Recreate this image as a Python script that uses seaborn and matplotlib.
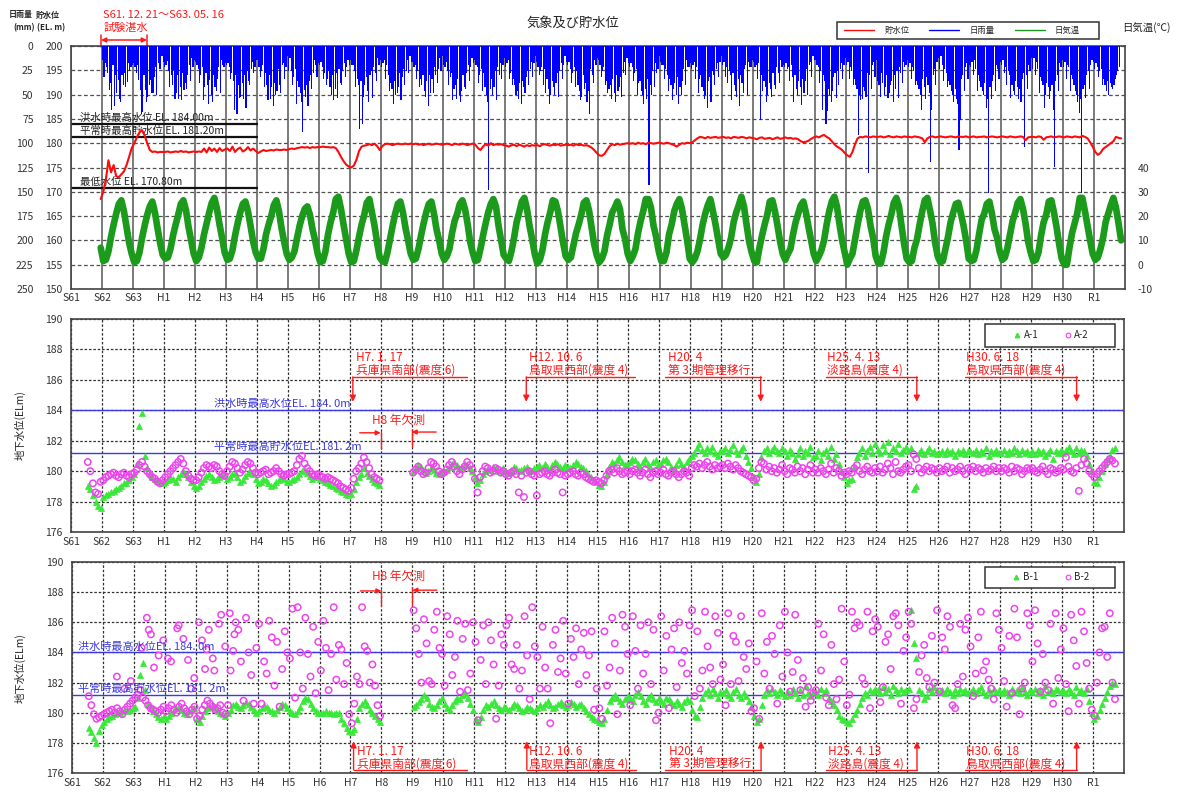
import numpy as np
import pandas as pd
import matplotlib
matplotlib.use("Agg")
import matplotlib.pyplot as plt
import matplotlib.transforms as mtransforms
from matplotlib.lines import Line2D
from matplotlib.patches import Rectangle
import seaborn as sns


def nums(rows):
    return np.array(" ".join(rows).split(), dtype=float)


# ---------------- x axis: Japanese era years ----------------
year_ticks = [1986, 1987, 1988, 1989, 1990, 1991, 1992, 1993, 1994, 1995, 1996, 1997,
              1998, 1999, 2000, 2001, 2002, 2003, 2004, 2005, 2006, 2007, 2008, 2009,
              2010, 2011, 2012, 2013, 2014, 2015, 2016, 2017, 2018, 2019]
year_labels = ["S61", "S62", "S63", "H1", "H2", "H3", "H4", "H5", "H6", "H7", "H8", "H9",
               "H10", "H11", "H12", "H13", "H14", "H15", "H16", "H17", "H18", "H19", "H20", "H21",
               "H22", "H23", "H24", "H25", "H26", "H27", "H28", "H29", "H30", "R1"]

# ---------------- daily rainfall (max per half month, mm), from Jan 1987 ----------------
rain_start = 1987.0
rain_mm = nums([
    "14 32 18 22 28 45 38 66 20 62 30 48 35 55 58 30 40 28 42 37 18 26 22 20",
    "18 22 28 20 35 45 70 68 30 45 58 52 40 35 48 48 32 22 50 18 24 24 10 16",
    "22 20 15 26 42 30 40 25 55 48 30 55 42 56 28 45 38 44 30 20 36 12 22 14",
    "16 20 24 38 30 22 56 42 28 40 60 35 50 58 30 42 46 34 22 48 14 20 22 18",
    "20 18 22 34 28 36 66 30 70 40 54 52 38 55 30 64 26 36 40 24 16 28 22 14",
    "14 22 32 26 20 42 28 40 56 30 55 42 62 38 50 46 24 40 48 20 18 34 22 10",
    "26 12 26 40 32 24 60 36 42 48 58 88 45 52 40 62 36 30 44 28 14 20 32 18",
    "20 16 22 34 28 40 34 26 42 50 30 56 44 28 54 24 38 40 26 18 32 22 14 20",
    "14 20 20 26 42 34 40 85 36 80 52 40 32 46 58 30 26 54 22 28 36 12 20 14",
    "22 18 14 34 20 30 46 38 44 60 36 50 48 42 28 56 32 24 40 26 14 28 10 16",
    "16 22 20 34 26 42 34 40 30 46 52 36 62 30 48 34 48 22 30 38 24 12 26 10",
    "20 22 16 26 40 32 28 56 44 40 55 34 50 58 46 30 42 44 28 20 36 22 12 18",
    "14 20 22 38 30 24 46 28 42 50 58 148 44 34 50 42 26 56 22 30 18 34 20 12",
    "22 18 14 34 28 40 34 40 50 46 55 38 60 36 42 48 32 26 40 24 16 32 18 10",
    "16 22 30 26 22 40 24 48 34 44 60 50 36 42 50 38 28 52 26 18 34 20 10 16",
    "20 16 24 38 28 22 42 26 40 46 56 52 30 44 38 58 46 70 24 30 38 14 20 12",
    "14 20 32 26 22 40 36 48 44 40 55 34 48 58 30 46 42 32 52 28 16 30 12 18",
    "22 18 22 36 28 24 50 38 36 46 50 60 44 55 34 143 40 50 26 42 18 28 24 10",
    "16 20 20 34 24 30 46 34 40 56 44 38 50 32 60 42 50 36 24 40 14 22 22 18",
    "24 20 16 34 22 48 34 30 42 46 55 50 64 36 32 58 26 30 40 24 18 32 16 10",
    "20 16 32 22 38 26 30 56 28 40 46 52 34 62 30 38 48 24 20 50 16 22 22 14",
    "16 22 20 34 18 76 30 46 36 42 58 50 38 44 52 28 40 44 22 28 38 14 22 20",
    "22 18 24 22 36 20 32 58 30 44 50 36 42 61 34 48 36 24 50 20 16 32 10 14",
    "14 20 22 38 26 66 30 36 80 67 44 50 58 46 32 28 54 26 40 24 18 34 20 12",
    "20 16 34 22 26 40 34 40 44 92 50 56 55 42 46 52 28 131 30 44 20 16 32 14",
    "36 40 52 28 38 50 42 30 54 48 40 36 58 30 44 26 54 22 28 38 16 22 20 14",
    "22 18 34 22 26 40 36 40 44 50 66 34 42 55 32 40 48 119 66 30 24 40 16 12",
    "24 10 20 36 24 28 42 36 40 46 50 58 44 55 60 107 76 34 30 46 22 18 34 20",
    "22 16 30 14 24 46 30 36 42 46 50 38 64 55 151 42 55 36 30 46 20 24 34 16",
    "20 14 28 22 40 26 30 54 40 46 50 36 42 55 44 58 34 28 104 30 44 20 26 12",
    "24 12 30 16 24 48 32 36 40 64 50 38 42 55 46 40 66 124 36 30 46 18 22 14",
    "22 16 34 20 22 46 30 34 40 46 50 58 69 55 151 44 40 54 30 26 44 20 14 16",
    "24 18 22 32 26 24 40 34 40 46 36 50 38 42 44 40 34 30 26 22",
])

# ---------------- daily air temperature (monthly level, deg C), from Dec 1986 ----------------
temp_start = 1986 + 11 / 12
temp_c = nums([
    "7.0",
    "1.5 2.0 5.5 11.5 16.5 21.0 25.0 26.5 22.0 15.5 9.0 4.5",
    "1.0 1.5 5.0 11.0 16.0 20.5 24.0 26.0 21.5 15.0 9.0 4.0",
    "2.5 3.0 6.5 12.0 16.5 20.5 25.0 26.5 22.5 15.5 10.0 4.5",
    "1.5 3.0 7.0 12.5 17.0 21.5 25.5 27.5 23.0 16.5 11.0 5.0",
    "2.0 2.5 6.0 12.0 17.0 21.5 25.0 26.0 22.0 16.0 9.5 5.0",
    "2.5 2.5 6.5 12.5 16.5 20.0 24.5 26.5 22.0 15.0 9.5 4.5",
    "2.0 3.0 5.5 11.0 16.0 20.0 23.0 24.0 20.5 14.5 10.0 4.5",
    "1.0 1.5 5.5 12.5 17.5 21.5 27.0 28.0 23.0 16.5 10.5 4.5",
    "1.0 1.5 6.0 11.5 16.5 20.5 25.5 27.0 21.5 16.0 9.0 3.0",
    "1.5 1.0 5.0 10.5 16.0 21.0 25.0 26.0 21.5 15.0 10.0 4.5",
    "2.0 2.5 6.5 12.0 17.0 21.5 25.0 26.0 21.0 14.5 10.0 4.5",
    "2.0 3.5 6.5 13.0 18.0 21.0 25.0 26.5 23.0 17.0 9.5 5.0",
    "1.5 2.0 6.5 12.0 17.0 21.5 25.0 27.0 24.0 16.0 10.0 4.0",
    "2.5 1.5 5.5 11.0 17.5 21.5 26.0 27.5 23.0 16.0 10.5 4.5",
    "0.5 2.0 6.0 12.5 17.5 21.5 26.5 26.0 22.0 15.5 9.0 3.5",
    "2.0 3.0 8.0 13.0 16.5 20.5 25.5 26.5 22.5 15.5 8.5 4.0",
    "1.0 2.5 5.5 12.0 16.5 21.5 23.5 26.0 23.0 14.5 10.5 4.5",
    "1.5 3.5 6.5 13.0 18.0 22.0 27.0 27.0 23.5 16.0 11.5 5.5",
    "1.5 1.5 5.0 12.5 16.5 22.0 25.0 27.0 23.0 16.5 10.0 2.5",
    "1.0 2.5 5.5 10.5 16.5 21.0 24.5 27.0 22.0 16.5 10.5 4.5",
    "3.0 4.0 7.0 11.0 17.5 21.5 24.5 28.0 24.0 16.5 9.5 5.0",
    "1.5 1.0 7.0 12.0 16.5 20.5 26.0 26.5 22.0 16.0 9.5 4.5",
    "2.0 4.5 6.5 12.5 17.5 21.0 24.5 26.0 21.5 15.5 10.0 4.5",
    "1.5 3.5 6.0 10.0 16.5 22.0 26.0 28.0 24.0 16.5 10.0 5.0",
    "0.0 2.5 4.5 10.5 16.5 22.0 26.0 26.5 23.0 16.0 11.0 3.5",
    "0.5 0.5 5.0 11.5 16.5 20.5 25.5 27.5 24.0 16.0 8.5 2.5",
    "1.0 1.5 7.0 10.5 16.5 22.0 26.5 27.5 22.5 17.0 9.0 3.5",
    "1.0 1.5 6.5 11.5 17.5 21.5 25.0 25.5 21.0 16.0 10.0 2.5",
    "1.5 2.0 6.0 12.5 18.5 21.0 25.0 26.0 21.0 14.5 11.0 5.5",
    "2.0 3.0 7.0 12.5 18.0 21.5 25.5 27.0 23.0 17.0 9.5 5.0",
    "1.5 2.0 5.0 12.0 17.5 20.5 26.0 26.5 21.5 15.5 8.5 2.5",
    "0.0 0.0 7.0 13.0 17.0 21.0 27.5 27.5 22.0 16.0 10.0 4.5",
    "2.0 3.0 6.5 11.0 17.5 21.0 24.5 27.5 23.5 17.0 10.0",
])

# ---------------- reservoir water level (EL. m, monthly), from Dec 1986 ----------------
level_start = 1986 + 11 / 12
level_el = nums([
    "168.5",
    "170.0 172.5 176.5 174.0 175.5 173.2 173.0 173.6 174.2 175.5 177.2 179.0",
    "180.0 181.2 182.2 182.7 181.6 180.0 178.6 178.2 178.3 178.1 178.2 178.2",
    "178.2 178.3 178.1 178.2 178.3 178.2 178.4 178.2 178.3 178.1 178.2 178.3",
    "178.2 178.3 178.2 178.9 178.1 179.1 178.4 178.9 178.2 179.0 178.4 178.7",
    "178.9 178.4 179.3 178.2 178.8 179.1 178.3 178.6 179.2 178.5 178.9 178.4",
    "178.0 178.3 178.6 178.4 178.5 178.6 178.5 178.7 178.6 178.6 178.7 178.6",
    "178.8 178.9 178.8 179.0 179.1 179.2 179.1 179.2 179.0 179.2 179.1 179.2",
    "179.2 179.3 179.2 179.2 179.1 179.2 179.0 178.2 177.2 176.3 175.6 175.2",
    "175.0 175.4 176.6 178.4 179.3 179.5 179.6 179.8 179.6 179.9 179.4 178.6",
    "179.4 179.8 179.9 179.8 179.6 179.8 179.9 179.8 179.8 179.9 179.8 179.9",
    "179.8 179.9 179.7 179.8 179.6 179.8 179.9 179.7 179.8 179.9 179.8 179.7",
    "179.8 179.9 179.8 179.6 179.9 179.8 179.7 179.9 179.8 179.6 179.8 179.9",
    "179.7 179.0 178.6 179.3 179.8 179.5 180.0 179.6 179.8 179.7 179.8 179.6",
    "179.5 179.3 179.6 179.7 179.4 179.7 179.5 179.3 179.6 179.4 179.6 179.5",
    "179.6 179.4 179.7 179.8 179.6 179.5 179.7 179.6 179.8 179.5 179.6 179.7",
    "179.6 179.7 179.5 179.8 179.6 179.7 179.5 179.6 179.4 179.1 178.6 178.0",
    "177.5 177.4 177.8 178.6 179.4 179.8 179.6 179.9 179.7 179.8 179.9 180.0",
    "179.9 180.0 179.8 180.1 179.9 180.0 179.8 180.1 180.0 179.9 180.0 180.1",
    "180.0 179.9 180.1 180.0 179.8 179.6 179.3 179.7 180.0 179.9 180.1 180.0",
    "180.2 180.6 181.0 181.3 181.2 181.0 181.3 181.1 181.2 181.3 181.1 181.2",
    "181.3 181.1 181.2 181.0 181.3 181.2 181.1 181.3 181.2 181.0 181.2 181.1",
    "181.0 180.8 181.1 181.2 180.9 181.0 181.1 180.8 181.0 181.2 180.9 181.0",
    "181.2 181.0 181.1 180.9 181.0 180.8 180.4 180.2 180.3 180.5 180.9 181.2",
    "181.4 181.2 181.5 181.7 181.3 181.0 180.4 179.8 179.3 179.0 178.6 178.0",
    "177.5 177.2 178.2 179.8 181.0 181.3 181.2 181.4 181.3 181.2 181.4 181.3",
    "181.3 181.4 181.2 181.3 181.5 181.3 181.2 181.4 181.3 181.2 181.4 181.3",
    "181.3 181.2 181.4 181.3 181.2 181.0 180.2 181.0 181.3 181.4 181.2 181.3",
    "181.4 181.3 181.2 181.3 181.4 181.3 181.2 181.4 181.3 181.3 181.4 181.2",
    "181.3 181.4 181.2 181.3 181.3 181.4 181.2 181.3 181.4 181.3 181.2 181.3",
    "181.4 181.3 181.2 181.4 181.3 181.2 181.3 181.4 181.3 180.6 181.2 181.3",
    "181.3 181.2 181.4 181.3 180.7 181.2 181.3 181.4 181.2 181.3 181.4 181.3",
    "181.2 181.4 181.3 181.2 181.4 181.3 181.2 181.5 181.3 181.0 180.2 179.3",
    "178.2 177.6 178.0 178.8 179.2 179.6 180.0 180.4 181.3 181.1 181.0",
])

# reference levels of the dam
dam_levels = [184.0, 181.2, 170.8]
dam_labels = ["洪水時最高水位 EL. 184.00m", "平常時最高貯水位 EL. 181.20m", "最低水位 EL. 170.80m"]
gw_lines = [184.0, 181.2]
gw_line_labels = ["洪水時最高水位EL. 184. 0m", "平常時最高貯水位EL. 181. 2m"]

# ---------------- groundwater levels (EL. m, monthly) ----------------
seg1_start = 1986.5   # Jul 1986 - Dec 1995
seg2_start = 1997.0   # Jan 1997 - Sep 2019 (H8 not measured)

a1_seg1 = nums([
    "179.0 178.8 178.4 178.0 177.7 177.6",
    "178.3 178.4 178.5 178.6 178.7 178.8 178.9 179.0 179.2 179.2 179.4 179.6",
    "179.8 180.5 183.0 183.8 181.0 180.2 179.9 179.6 179.5 179.4 179.3 179.2",
    "179.3 179.4 179.6 179.5 179.3 179.6 179.8 180.0 179.8 179.6 179.3 179.0",
    "178.9 179.0 179.3 179.5 179.7 179.8 179.6 179.4 179.5 179.6 179.8 179.7",
    "179.5 179.6 179.8 179.9 179.6 179.3 179.4 179.7 179.9 180.0 179.8 179.5",
    "179.2 179.3 179.5 179.4 179.2 179.0 179.1 179.3 179.4 179.6 179.5 179.3",
    "179.3 179.4 179.5 179.6 179.8 180.0 180.1 179.9 179.7 179.5 179.6 179.6",
    "179.5 179.4 179.3 179.2 179.1 179.0 178.9 178.8 178.7 178.6 178.5 178.4",
    "178.5 178.8 179.3 179.6 179.8 180.2 179.9 179.7 179.5 179.3 179.2 179.1",
])
a1_seg2 = nums([
    "180.0 180.2 180.4 180.3 180.1 179.9 180.0 180.2 180.1 179.9 179.8 179.9",
    "180.0 180.1 180.3 180.5 180.6 180.4 180.2 180.3 180.5 180.4 180.2 180.0",
    "179.6 179.2 179.4 179.8 180.0 180.2 180.1 180.3 180.2 180.0 180.1 180.2",
    "180.0 179.9 180.1 180.3 180.2 180.0 180.1 180.2 180.3 180.1 180.0 180.2",
    "180.3 180.4 180.2 180.5 180.3 180.1 180.4 180.6 180.5 180.3 180.2 180.4",
    "180.3 180.2 180.4 180.6 180.5 180.3 180.2 180.0 179.8 179.6 179.4 179.3",
    "179.1 179.0 179.3 179.8 180.3 180.6 180.5 180.7 180.9 180.6 180.4 180.5",
    "180.6 180.8 180.7 180.5 180.3 180.6 180.8 180.5 180.3 180.6 180.7 180.4",
    "180.5 180.7 180.8 180.6 180.3 180.1 180.4 180.7 180.5 180.3 180.6 180.8",
    "181.0 181.2 181.5 181.8 181.4 181.2 181.5 181.3 181.6 181.2 181.0 181.3",
    "181.3 181.5 181.2 181.4 181.7 181.3 181.1 181.4 181.6 181.0 180.6 180.2",
    "179.6 179.3 179.8 180.9 181.3 181.5 181.2 181.4 181.6 181.3 181.2 181.5",
    "181.3 181.0 181.4 181.2 180.8 181.1 181.5 181.0 181.3 181.2 181.6 180.9",
    "181.0 181.3 180.7 181.2 181.4 181.0 181.6 180.8 181.1 180.5 180.0 179.6",
    "179.2 179.4 179.5 180.3 180.9 181.2 181.5 181.0 181.3 181.6 181.2 181.8",
    "181.4 181.2 181.7 181.3 181.9 181.1 181.5 181.3 181.8 181.2 181.4 181.6",
    "181.3 181.5 178.8 179.0 181.2 181.4 181.1 181.3 181.5 181.2 181.3 181.1",
    "181.2 181.3 181.1 181.4 181.2 181.3 181.0 181.3 181.2 181.4 181.1 181.3",
    "181.3 181.2 181.4 181.1 181.3 181.2 181.5 181.0 181.3 181.2 181.4 181.2",
    "181.2 181.4 181.1 181.3 181.2 181.5 181.3 181.1 181.4 181.2 181.3 181.1",
    "181.3 181.1 181.4 181.2 181.3 181.0 181.2 181.4 180.8 181.3 181.2 181.4",
    "181.2 181.4 181.6 181.3 181.1 181.5 181.2 181.4 181.3 181.0 180.5 180.0",
    "179.3 179.2 179.6 180.0 180.5 180.8 181.0 181.4 181.5",
])
a2_seg1 = nums([
    "180.6 180.0 179.2 178.6 178.5 179.3",
    "179.4 179.6 179.7 179.8 179.9 179.7 179.6 179.8 179.9 179.7 179.6 179.8",
    "179.9 180.1 180.4 180.6 180.3 180.0 179.8 179.6 179.5 179.3 179.2 179.4",
    "179.6 179.8 180.0 180.2 180.4 180.6 180.8 180.5 180.0 179.7 179.5 179.4",
    "179.4 179.6 179.9 180.2 180.4 180.3 180.2 180.4 180.3 180.0 179.8 179.7",
    "180.0 180.3 180.6 180.5 180.2 179.9 180.1 180.4 180.6 180.5 180.2 179.9",
    "179.8 179.9 180.0 180.1 179.8 179.9 180.0 180.2 180.0 179.8 179.7 179.8",
    "179.8 179.9 180.0 180.4 180.8 181.0 180.5 180.2 180.0 179.8 179.7 179.8",
    "179.7 179.6 179.5 179.6 179.5 179.4 179.3 179.2 179.0 178.9 178.8 178.7",
    "178.9 179.5 180.0 180.2 180.5 180.9 180.6 180.2 179.8 179.6 179.5 179.4",
])
a2_seg2 = nums([
    "179.9 180.1 180.3 180.0 179.8 179.9 180.2 180.6 180.5 180.3 180.0 179.8",
    "179.9 180.1 180.4 180.6 180.3 180.0 179.8 180.1 180.3 180.6 180.4 180.1",
    "179.5 178.6 179.6 180.0 180.3 180.2 179.9 180.0 180.2 180.1 179.9 180.0",
    "179.8 179.7 179.9 180.0 179.8 178.6 179.7 178.3 179.9 180.0 179.8 179.7",
    "178.4 179.8 179.9 180.0 179.8 179.7 179.9 180.1 179.9 179.8 178.6 179.7",
    "179.8 179.9 180.0 179.8 179.7 179.9 179.8 179.6 179.5 179.4 179.3 179.4",
    "179.3 179.2 179.4 179.7 180.0 180.1 179.9 180.2 180.0 179.8 179.9 180.0",
    "179.8 180.0 180.1 179.9 179.7 179.9 180.1 179.8 179.6 179.9 180.0 179.8",
    "179.9 180.1 179.8 179.7 179.9 180.0 179.8 179.6 179.8 180.0 179.9 179.7",
    "180.2 180.4 180.3 180.5 180.2 180.4 180.6 180.3 180.1 180.4 180.2 180.3",
    "180.4 180.2 180.5 180.3 180.1 180.4 180.2 180.0 179.9 179.8 179.7 179.6",
    "179.4 179.5 180.2 180.6 180.5 180.1 180.3 180.0 180.2 179.9 180.1 180.4",
    "180.0 179.8 180.2 180.1 179.9 180.3 180.0 180.2 179.8 180.1 180.4 179.9",
    "180.1 179.9 180.2 180.0 179.8 180.1 180.5 179.9 180.2 180.0 179.7 179.9",
    "179.8 180.0 179.9 180.2 180.4 180.0 179.8 180.1 180.3 180.0 179.9 180.2",
    "180.0 180.3 179.9 180.1 180.5 180.2 179.8 180.6 180.0 179.9 180.1 180.3",
    "180.4 180.0 181.1 180.8 180.2 179.9 180.1 180.3 180.0 180.2 180.1 179.9",
    "180.2 180.0 180.1 180.3 179.9 180.2 180.0 180.1 180.3 180.0 179.8 180.2",
    "180.1 180.3 180.0 180.2 180.1 179.9 180.2 180.0 180.1 180.3 180.0 180.2",
    "180.0 180.2 180.1 179.9 180.3 180.0 180.2 180.1 179.8 180.0 180.2 180.1",
    "180.2 180.0 179.9 180.1 180.3 180.0 179.8 180.2 180.1 179.9 180.0 180.2",
    "180.1 180.9 180.3 180.0 179.9 180.2 178.7 180.4 180.8 180.5 180.0 179.8",
    "179.6 179.8 180.0 180.2 180.4 180.6 180.8 180.7 180.5",
])
b1_seg1 = nums([
    "179.0 178.7 178.3 178.0 178.8 179.2",
    "179.4 179.6 179.7 179.8 179.9 180.0 180.0 180.1 180.2 180.1 180.2 180.3",
    "180.4 181.0 182.5 183.3 181.5 180.6 180.3 180.1 179.9 179.7 179.6 179.8",
    "179.6 179.8 180.0 180.2 180.3 180.4 180.2 180.0 179.9 180.1 180.2 180.3",
    "179.6 179.4 179.8 180.1 180.3 180.4 180.5 180.3 180.1 180.0 179.9 179.8",
    "180.0 180.2 180.5 180.6 180.4 180.3 180.5 180.7 180.6 180.4 180.2 180.0",
    "180.1 180.3 180.5 180.4 180.2 180.1 180.0 180.2 180.4 180.6 180.5 180.3",
    "180.1 180.0 179.9 180.1 180.4 180.8 181.0 180.9 180.6 180.3 180.1 180.0",
    "180.0 180.0 180.1 180.0 180.0 179.9 180.0 180.0 179.6 179.3 179.0 178.8",
    "178.7 178.9 179.6 180.3 180.6 180.8 180.5 180.2 180.0 179.8 179.6 179.4",
])
b1_seg2 = nums([
    "180.4 180.5 180.7 180.9 181.2 181.0 180.6 180.4 180.3 180.5 180.8 181.0",
    "180.6 180.3 180.2 180.5 180.8 181.0 180.9 181.2 181.3 181.0 180.6 180.2",
    "179.6 179.4 179.7 180.2 180.5 180.4 180.6 180.8 180.5 180.3 180.2 180.4",
    "180.3 180.2 180.4 180.6 180.5 180.3 180.1 180.2 180.4 180.3 180.2 180.1",
    "180.3 180.5 180.4 180.6 180.8 180.5 180.3 180.4 180.6 180.7 180.5 180.4",
    "180.5 180.7 180.6 180.4 180.5 180.6 180.3 180.1 179.9 179.7 179.6 179.5",
    "179.4 179.3 179.6 180.2 180.8 181.0 181.2 181.0 180.8 180.6 180.9 181.1",
    "181.0 180.8 181.2 181.4 181.1 180.8 180.6 181.0 181.2 180.9 180.7 181.0",
    "180.8 180.6 181.0 180.9 180.7 180.5 180.8 180.6 180.4 180.7 180.9 180.8",
    "180.2 179.8 179.7 180.4 181.0 181.3 181.5 181.2 181.6 181.3 181.0 181.4",
    "181.3 181.5 181.2 181.0 181.4 181.6 181.2 181.0 181.3 181.1 180.8 180.4",
    "179.8 179.4 179.6 180.5 181.2 181.5 181.3 181.6 181.4 181.2 181.5 181.3",
    "181.1 181.4 181.2 181.6 181.3 181.0 181.5 181.2 181.8 181.3 181.1 181.4",
    "181.4 181.2 181.6 181.3 181.5 181.0 180.8 180.5 180.2 179.8 179.6 179.5",
    "179.4 179.3 179.6 179.9 180.2 180.6 181.0 181.3 181.2 181.5 181.4 181.6",
    "181.5 181.3 181.7 181.4 181.6 181.2 181.8 181.5 181.3 181.6 181.4 181.5",
    "181.6 186.8 184.6 183.6 181.5 181.3 180.9 181.1 181.6 181.4 181.7 181.5",
    "181.4 181.5 181.3 181.6 181.4 181.2 181.5 181.3 181.6 181.4 181.5 181.3",
    "181.4 181.6 181.3 181.5 181.7 181.4 181.2 181.5 181.3 181.6 181.4 181.5",
    "181.3 181.5 181.4 181.2 181.6 181.4 181.5 181.3 181.7 181.4 181.2 181.5",
    "181.4 181.6 181.3 181.5 181.2 181.8 181.4 181.5 181.3 181.6 181.5 181.4",
    "181.5 181.3 181.6 181.4 181.2 181.7 181.4 181.5 181.3 181.6 180.8 180.0",
    "179.6 179.8 180.2 180.6 181.0 181.4 181.8 182.0 181.9",
])
b2_seg1 = nums([
    "181.1 180.5 179.9 179.6 179.7 179.8",
    "179.9 180.0 180.1 180.2 180.0 180.3 180.1 179.9 180.2 180.4 180.6 180.8",
    "181.0 181.2 181.5 181.0 180.8 180.5 180.3 180.2 180.1 180.0 180.2 180.4",
    "180.1 180.3 180.5 180.2 180.0 180.4 180.6 180.3 180.1 179.9 180.2 180.4",
    "179.6 179.8 180.2 180.5 180.8 180.6 180.4 180.2 180.3 180.5 180.0 179.9",
    "180.5 182.8 184.1 186.0 185.5 183.4 180.8 186.3 184.0 182.5 180.6 184.3",
    "185.9 180.6 183.4 182.6 186.1 185.0 181.8 184.7 180.4 182.9 185.4 184.0",
    "183.6 186.9 181.0 187.0 184.0 181.6 186.3 183.9 182.4 185.7 181.3 184.7",
    "182.8 186.1 184.3 181.5 183.9 187.0 182.2 184.5 184.2 181.9 183.3 179.9",
    "179.3 180.6 182.4 181.9 187.0 184.4 184.1 182.0 183.2 181.8 180.5 179.8",
])
b2_seg2 = nums([
    "186.8 185.6 183.9 182.0 186.2 184.6 182.1 181.9 185.5 186.7 184.3 183.9",
    "181.8 186.4 185.2 182.5 183.7 186.1 181.4 184.9 185.9 181.5 182.6 186.0",
    "184.7 179.5 183.5 185.8 181.9 186.0 184.8 183.2 179.6 181.8 185.2 184.5",
    "185.8 186.3 183.2 182.9 184.5 181.6 182.8 186.4 183.8 180.9 187.0 184.4",
    "183.7 181.6 185.7 183.0 181.6 179.3 184.5 185.5 182.7 183.6 186.1 182.6",
    "180.6 184.9 183.7 185.6 181.9 184.2 185.3 182.5 183.8 185.4 180.2 181.6",
    "180.3 179.6 185.4 181.8 183.0 186.3 184.6 179.9 182.8 186.5 185.7 183.9",
    "180.5 186.4 184.1 181.6 185.8 182.6 183.9 186.0 181.9 185.5 179.5 180.0",
    "186.4 182.8 185.1 180.3 184.2 185.6 181.7 186.0 183.3 184.1 182.6 185.8",
    "186.8 181.1 185.4 181.6 182.8 186.7 184.4 183.0 181.9 186.4 185.3 182.2",
    "183.2 180.5 186.6 181.9 185.1 184.7 182.1 186.4 183.7 182.9 184.6 180.1",
    "180.3 183.4 179.6 186.6 182.6 184.7 181.6 185.1 183.9 180.6 185.8 182.4",
    "186.7 184.0 181.4 182.7 186.5 183.5 181.5 182.3 180.4 181.7 180.8 181.3",
    "181.5 185.9 182.8 185.2 181.0 180.5 184.5 181.9 180.9 182.2 186.9 183.4",
    "180.5 181.2 186.7 185.6 186.0 185.8 182.3 181.9 186.7 180.3 185.4 186.2",
    "185.7 180.7 181.7 184.7 185.2 182.9 186.4 186.6 185.8 180.6 184.1 185.0",
    "186.7 185.9 180.3 180.9 182.7 183.8 184.5 182.3 181.7 185.1 182.0 186.8",
    "181.4 185.0 184.2 186.4 185.7 180.5 180.3 181.9 185.9 182.4 185.5 186.3",
    "184.4 181.1 182.6 185.0 186.7 182.8 183.4 182.2 181.6 180.9 186.6 185.5",
    "184.3 182.1 180.4 185.1 181.3 186.9 185.0 179.9 181.6 182.0 186.6 185.8",
    "183.4 186.8 184.6 181.4 183.9 182.0 181.5 185.9 180.6 186.6 182.3 184.2",
    "185.6 181.9 180.1 186.5 184.8 183.1 180.6 186.7 185.4 183.3 181.6 180.2",
    "179.8 182.0 184.0 185.6 185.7 183.7 186.6 182.0 180.9",
])
# additional scattered B-2 readings in the early years
b2_extra_year = [1987.45, 1987.7, 1987.9, 1988.25, 1988.42, 1988.48, 1988.55, 1988.65, 1988.8,
                 1988.95, 1989.1, 1989.2, 1989.4, 1989.45, 1989.6, 1989.75, 1989.85, 1989.95,
                 1990.1, 1990.2, 1990.3, 1990.35, 1990.42, 1990.55, 1990.6, 1990.75, 1990.82,
                 1990.95, 1991.1, 1991.25]
b2_extra_val = [182.4, 181.6, 182.1, 184.3, 186.3, 185.5, 185.2, 183.0, 183.8,
                184.8, 183.6, 183.4, 185.6, 185.8, 184.9, 183.5, 181.6, 182.3,
                186.0, 184.8, 182.9, 184.2, 185.5, 183.6, 182.8, 185.9, 186.5,
                184.4, 186.6, 185.2]

# ---------------- events ----------------
quake_x = [1995.1, 2000.7, 2008.27, 2013.31, 2018.47]
quake_u0 = [1995.1, 2000.7, 2005.18, 2010.38, 2014.86]
quake_u1 = [1998.78, 2004.22, 2008.27, 2013.31, 2018.47]
quake_tx = [1995.2, 2000.78, 2005.28, 2010.42, 2014.9]
quake_date = ["H7. 1. 17", "H12. 10. 6", "H20. 4", "H25. 4. 13", "H30. 6. 18"]
quake_desc = ["兵庫県南部(震度 6)", "鳥取県西部(震度 4)", "第 3 期管理移行", "淡路島(震度 4)", "鳥取県西部(震度 4)"]
trial_start, trial_end = 1986.97, 1988.45


# ---------------- helpers ----------------
def frame(start, values, per_year=12):
    t = start + (np.arange(len(values)) + 0.5) / per_year
    return pd.DataFrame({"year": t, "value": values})


def gw_frame(seg1, seg2, extra_x=None, extra_v=None):
    parts = [frame(seg1_start, seg1), frame(seg2_start, seg2)]
    if extra_x is not None:
        parts.append(pd.DataFrame({"year": extra_x, "value": extra_v}))
    return pd.concat(parts, ignore_index=True)


rain_df = frame(rain_start, rain_mm, 24)
temp_df = frame(temp_start, temp_c)
level_df = frame(level_start, level_el)
a1_df = gw_frame(a1_seg1, a1_seg2)
a2_df = gw_frame(a2_seg1, a2_seg2)
b1_df = gw_frame(b1_seg1, b1_seg2)
b2_df = gw_frame(b2_seg1, b2_seg2, b2_extra_year, b2_extra_val)

# ---------------- style ----------------
sns.set_theme(style="white")
plt.rcParams["font.family"] = ["Noto Sans CJK JP", "DejaVu Sans"]
plt.rcParams["axes.unicode_minus"] = False

RED = "#ff0a0a"
BLUE = "#0000ff"
TGREEN = "#1c9a1c"
LIME = "#3ae83a"
MAG = "#ee44ee"
LBLUE = "#3a3ae0"
ARED = "#ff1a1a"
TXT = "#333333"

W, H = 1184, 798
fig = plt.figure(figsize=(W / 100, H / 100), dpi=100)
fig.patch.set_facecolor("white")


def box(l, t, r, b):
    return [l / W, 1 - b / H, (r - l) / W, (b - t) / H]


def fx(px):
    return px / W


def fy(px):
    return 1 - px / H


ax_top = fig.add_axes(box(71, 46, 1125, 289))
ax_mid = fig.add_axes(box(71, 319, 1124, 532))
ax_bot = fig.add_axes(box(72, 562, 1124, 773))

# ================= top panel =================
ax_rain = ax_top.twinx()
ax_temp = ax_top.twinx()
ax_lvl = ax_top.twinx()

ax_top.set_xlim(1986, 2020)
ax_top.set_ylim(150, 200)
ax_top.set_yticks(np.arange(150, 201, 5))
ax_top.set_xticks(year_ticks)
ax_top.set_xticklabels(year_labels)
ax_top.xaxis.grid(True, color="#707070", lw=1.3, ls="-")
ax_top.yaxis.grid(True, color="#505050", lw=0.9, ls=(0, (3, 2)))
ax_top.set_axisbelow(True)
ax_top.tick_params(axis="both", length=0, labelsize=7.5, colors=TXT)
ax_top.tick_params(axis="y", pad=6)
ax_top.tick_params(axis="x", pad=3)
for s in ax_top.spines.values():
    s.set_color("#444444")
    s.set_linewidth(1.2)

for lv, lb in zip(dam_levels, dam_labels):
    ax_top.plot([1986, 1992.03], [lv, lv], color="#111111", lw=1.6, solid_capstyle="butt")
    ax_top.text(1986.29, lv + 0.25, lb, fontsize=7.5, color="#222222", va="bottom", ha="left")

# rainfall (inverted scale, labels far left)
ax_rain.bar(rain_df["year"], rain_df["value"], width=0.038, color=BLUE, linewidth=0)
ax_rain.set_ylim(250, 0)
ax_rain.set_yticks(np.arange(0, 251, 25))
ax_rain.yaxis.tick_left()
ax_rain.tick_params(axis="y", length=0, pad=27, labelsize=7.5, colors=TXT)
for s in ax_rain.spines.values():
    s.set_visible(False)

# temperature (right scale)
sns.lineplot(data=temp_df, x="year", y="value", ax=ax_temp, color=TGREEN, lw=4.8,
             estimator=None, sort=False)
ax_temp.set_ylim(-10, 90)
ax_temp.set_yticks([-10, 0, 10, 20, 30, 40])
ax_temp.tick_params(axis="y", length=0, pad=9, labelsize=7.5, colors=TXT)
ax_temp.set_xlabel("")
ax_temp.set_ylabel("")
for s in ax_temp.spines.values():
    s.set_visible(False)

# water level
sns.lineplot(data=level_df, x="year", y="value", ax=ax_lvl, color=RED, lw=1.5,
             estimator=None, sort=False)
ax_lvl.set_ylim(150, 200)
ax_lvl.set_yticks([])
ax_lvl.set_xlabel("")
ax_lvl.set_ylabel("")
for s in ax_lvl.spines.values():
    s.set_visible(False)
ax_top.set_xlim(1986, 2020)

# trial impoundment note (above the axes)
trans_top = mtransforms.blended_transform_factory(ax_top.transData, fig.transFigure)
ax_top.annotate("", xy=(trial_end, fy(40)), xytext=(trial_start, fy(40)),
                xycoords=trans_top, textcoords=trans_top, annotation_clip=False,
                arrowprops=dict(arrowstyle="<|-|>", color=ARED, lw=1.1, mutation_scale=7,
                                shrinkA=0, shrinkB=0))
for xv in (trial_start, trial_end):
    ax_top.add_line(Line2D([xv, xv], [fy(35), fy(47)], transform=trans_top, color=ARED,
                           lw=1.1, clip_on=False))
fig.text(fx(103), fy(15), "S61. 12. 21～S63. 05. 16", color=ARED, fontsize=8, ha="left", va="center")
fig.text(fx(104), fy(28), "試験湛水", color=ARED, fontsize=8, ha="left", va="center")

# header texts
fig.text(fx(573), fy(23), "気象及び貯水位", fontsize=9.5, ha="center", va="center", color="#222222")
fig.text(fx(21), fy(15), "日雨量", fontsize=5.8, ha="center", va="center", fontweight="bold")
fig.text(fx(24), fy(28), "(mm)", fontsize=5.8, ha="center", va="center", fontweight="bold")
fig.text(fx(48), fy(15), "貯水位", fontsize=5.8, ha="center", va="center", fontweight="bold")
fig.text(fx(51), fy(28), "(EL. m)", fontsize=5.8, ha="center", va="center", fontweight="bold")
fig.text(fx(1146), fy(28), "日気温(℃)", fontsize=7.5, ha="center", va="center", color="#222222")

# top legend (outside the axes)
fig.add_artist(Rectangle((fx(837), fy(39)), (1099 - 837) / W, 17 / H, transform=fig.transFigure,
                         facecolor="white", edgecolor="#333333", lw=1.1, zorder=3))
leg_handles = [Line2D([], [], color=RED, lw=1.0), Line2D([], [], color=BLUE, lw=1.0),
               Line2D([], [], color=TGREEN, lw=1.0)]
fig.legend(leg_handles, ["貯水位", "日雨量", "日気温"], loc="center", ncol=3,
           bbox_to_anchor=(fx(962), fy(30.5)), frameon=False, fontsize=6,
           handlelength=3.6, handletextpad=1.2, columnspacing=2.4, borderpad=0)


# ================= groundwater panels =================
def gw_panel(ax, d1, d2):
    ax.set_xlim(1986, 2020)
    ax.set_ylim(176, 190)
    ax.set_yticks(np.arange(176, 191, 2))
    ax.set_xticks(year_ticks)
    ax.set_xticklabels(year_labels)
    ax.grid(True, color="#303030", lw=0.9, ls=(0, (2, 1.5)))
    ax.set_axisbelow(True)
    ax.tick_params(axis="both", length=0, labelsize=7.5, colors=TXT)
    ax.tick_params(axis="y", pad=6)
    ax.tick_params(axis="x", pad=3.5)
    for s in ax.spines.values():
        s.set_color("#444444")
        s.set_linewidth(1.2)
    for lv in gw_lines:
        ax.axhline(lv, color=LBLUE, lw=1.0, zorder=1.5)
    sns.scatterplot(data=d1, x="year", y="value", ax=ax, marker="^", s=19, color=LIME,
                    edgecolor=LIME, linewidth=0.5, legend=False, zorder=3)
    sns.scatterplot(data=d2, x="year", y="value", ax=ax, marker="o", s=21, color=MAG,
                    facecolor="none", edgecolor=MAG, linewidth=1.1, legend=False, zorder=3)
    ax.set_xlabel("")
    ax.set_ylabel("")
    ax.set_xlim(1986, 2020)
    ax.set_ylim(176, 190)


gw_panel(ax_mid, a1_df, a2_df)
gw_panel(ax_bot, b1_df, b2_df)

# blue reference labels
for lv, lb in zip(gw_lines, gw_line_labels):
    ax_mid.text(1990.61, lv + 0.08, lb, color=LBLUE, fontsize=8, ha="left", va="bottom", zorder=4)
    ax_bot.text(1986.19, lv + 0.02, lb, color=LBLUE, fontsize=8, ha="left", va="bottom", zorder=4)


def quake_notes(ax, y1, y2, yu, ytip):
    for xa, u0, u1, tx, d, s in zip(quake_x, quake_u0, quake_u1, quake_tx, quake_date, quake_desc):
        ax.plot([u0, u1], [yu, yu], color=ARED, lw=1.0, zorder=5)
        ax.annotate("", xy=(xa, ytip), xytext=(xa, yu),
                    arrowprops=dict(arrowstyle="-|>", color=ARED, lw=1.0, mutation_scale=9,
                                    shrinkA=0, shrinkB=0), zorder=5)
        ax.text(tx, y1, d, color=ARED, fontsize=8.5, ha="left", va="center", zorder=5)
        ax.text(tx, y2, s, color=ARED, fontsize=8.5, ha="left", va="center", zorder=5)


quake_notes(ax_mid, 187.48, 186.64, 186.2, 184.56)
quake_notes(ax_bot, 177.43, 176.62, 176.22, 178.1)


def missing_note(ax, yt, ya, yl0, yl1, yr0, yr1):
    ax.text(1996.56, yt, "H8 年欠測", color=ARED, fontsize=8.5, ha="center", va="center", zorder=5)
    ax.annotate("", xy=(1996.0, ya), xytext=(1995.32, ya),
                arrowprops=dict(arrowstyle="-|>", color=ARED, lw=1.0, mutation_scale=7,
                                shrinkA=0, shrinkB=0))
    ax.annotate("", xy=(1997.0, ya + 0.05), xytext=(1997.79, ya + 0.05),
                arrowprops=dict(arrowstyle="-|>", color=ARED, lw=1.0, mutation_scale=7,
                                shrinkA=0, shrinkB=0))
    ax.plot([1996.0, 1996.0], [yl0, yl1], color=ARED, lw=1.0, zorder=5)
    ax.plot([1997.0, 1997.0], [yr0, yr1], color=ARED, lw=1.0, zorder=5)


missing_note(ax_mid, 183.36, 182.52, 182.6, 181.45, 182.8, 181.6)
missing_note(ax_bot, 189.05, 188.08, 188.17, 187.09, 188.35, 187.13)

# y labels of groundwater panels
fig.text(fx(20), fy(425), "地下水位(ELm)", rotation=90, fontsize=7.5, ha="center", va="center", color="#222222")
fig.text(fx(20), fy(668), "地下水位(ELm)", rotation=90, fontsize=7.5, ha="center", va="center", color="#222222")


# legends of groundwater panels (white boxes)
def gw_legend(top, bottom, names):
    fig.add_artist(Rectangle((fx(985), fy(bottom)), (1115 - 985) / W, (bottom - top) / H,
                             transform=fig.transFigure, facecolor="white", edgecolor="#333333",
                             lw=1.1, zorder=3))
    hs = [Line2D([], [], marker="^", color=LIME, ls="none", markersize=3.2),
          Line2D([], [], marker="o", color=MAG, mfc="none", ls="none", markersize=3.4, mew=0.8)]
    fig.legend(hs, names, loc="center", ncol=2, bbox_to_anchor=(fx(1051), fy((top + bottom) / 2)),
               frameon=False, fontsize=7, handlelength=0.8, handletextpad=0.3,
               columnspacing=2.6, borderpad=0)


gw_legend(324, 347, ["A-1", "A-2"])
gw_legend(567, 588, ["B-1", "B-2"])

fig.savefig("out.png", dpi=100, facecolor="white")
